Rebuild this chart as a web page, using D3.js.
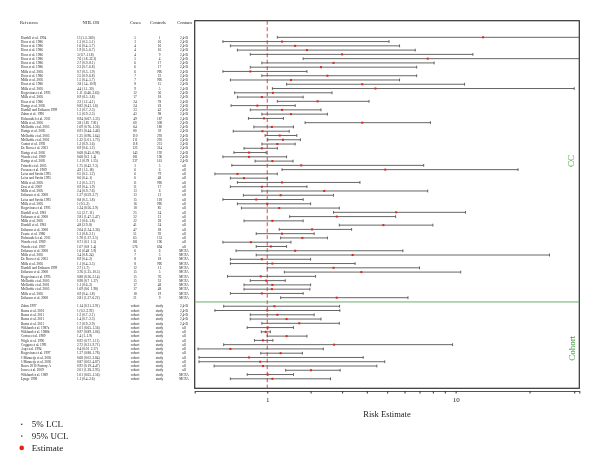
<!DOCTYPE html>
<html>
<head>
<meta charset="utf-8">
<script src="https://cdn.jsdelivr.net/npm/d3@7"></script>
<style>
  body { margin: 0; background: #fff; }
  svg { display: block; font-family: "Liberation Serif", "Times New Roman", serif; will-change: transform; }
</style>
</head>
<body>
<div id="chart"></div>
<script>
// Case-control studies
const ccRef = [
  'Hardell et al. 1994', 'Hoar et al. 1986', 'Hoar et al. 1986', 'Hoar et al. 1986', 'Hoar et al. 1986',
  'Hoar et al. 1986', 'Hoar et al. 1986', 'Hoar et al. 1986', 'Mills et al. 2005', 'Hoar et al. 1986',
  'Mills et al. 2005', 'Hoar et al. 1986', 'Mills et al. 2005', 'Kogevinas et al. 1995', 'Mills et al. 2005',
  'Hoar et al. 1986', 'Hartge et al. 2005', 'Hardell and Eriksson 1999', 'Zahm et al. 1990', 'Hohenadel et al. 2011',
  'Mills et al. 2005', 'McDuffie et al. 2005', 'Hartge et al. 2005', 'McDuffie et al. 2005', 'McDuffie et al. 2001',
  'Cantor et al. 1992', 'De Roos et al. 2003', 'Hartge et al. 2005', 'Woods et al. 1989', 'Hartge et al. 2005',
  'Fritschi et al. 2005', 'Persson et al. 1989', 'Leiss and Savitz 1995', 'Leiss and Savitz 1995', 'Mills et al. 2005',
  'Orsi et al. 2009', 'Mills et al. 2005', 'Eriksson et al. 2008', 'Leiss and Savitz 1995', 'Mills et al. 2005',
  'Kogevinas et al. 1995', 'Hardell et al. 1981', 'Eriksson et al. 2008', 'Mills et al. 2005', 'Hardell et al. 1981',
  'Eriksson et al. 2008', 'Pearce et al. 1986', 'Hohenadel et al. 2011', 'Woods et al. 1989', 'Woods et al. 1987',
  'Eriksson et al. 2008', 'Mills et al. 2005', 'De Roos et al. 2003', 'Mills et al. 2005', 'Hardell and Eriksson 1999',
  'Eriksson et al. 2008', 'Kogevinas et al. 1995', 'McDuffie et al. 2005', 'McDuffie et al. 2001', 'McDuffie et al. 2005',
  'Mills et al. 2005', 'Eriksson et al. 2008'
];
const ccEst = [13, 1.3, 1.6, 1.9, 3, 7.6, 2.7, 2.3, 0.7, 2.5, 1.5, 3.8, 4.4, 1.11, 0.9, 2.2, 0.82, 1.3, 1.5, 0.94,
  3.8, 1.09, 0.91, 1.25, 1.32, 1.2, 0.9, 0.68, 0.68, 1.1, 1.75, 4.9, 0.5, 0.6, 1.3, 0.9, 2.4, 1.27, 0.8, 1,
  1.24, 5.5, 2.81, 1.1, 4.8, 2.04, 1.3, 1.78, 0.71, 1.07, 1.6, 3.4, 0.9, 1.1, 2.7, 3.76, 0.88, 0.98, 1.1, 1.09,
  0.9, 2.81];
const ccLcl = [1.2, 0.3, 0.4, 0.5, 0.7, 1.8, 0.9, 0.7, 0.3, 0.9, 0.4, 1.4, 1.1, 0.46, 0.5, 1.2, 0.41, 0.7, 0.9, 0.67,
  1.85, 0.76, 0.44, 0.96, 1.01, 0.9, 0.6, 0.45, 0.3, 0.78, 0.42, 1.3, 0.2, 0.4, 0.5, 0.4, 0.9, 0.59, 0.3, 0.5,
  0.56, 2.7, 1.47, 0.6, 2.9, 1.24, 0.8, 1.27, 0.3, 0.8, 0.48, 0.8, 0.4, 0.4, 1, 1.35, 0.36, 0.7, 0.6, 0.6,
  0.4, 1.27];
const ccUcl = [360, 5.1, 5.7, 6.7, 11.8, 32.3, 8.1, 6.8, 1.9, 6.8, 5.7, 10.9, 30, 2.65, 1.8, 4.1, 1.6, 2.3, 2.5, 1.33,
  7.81, 1.56, 1.46, 1.64, 1.73, 1.6, 1.2, 0.98, 1.4, 1.55, 7.3, 18, 1.2, 1, 3.7, 1.9, 7.6, 2.7, 1.8, 2,
  2.9, 11, 5.47, 1.8, 8, 3.36, 2.1, 2.5, 1.5, 1.4, 5.9, 24, 2, 3.5, 7, 10.5, 2.14, 1.37, 2, 1.98,
  1.8, 6.22];
const ccCases = [5, 3, 4, 4, 4, 5, 6, 6, 6, 7, 7, 8, 9, 12, 17, 24, 24, 33, 43, 49, 60, 64, 80, 110, 111, 118, 123, 145, 181, 237,
  3, 6, 6, 6, 11, 11, 13, 13, 15, 16, 18, 25, 32, 32, 41, 47, 51, 65, 181, 576,
  6, 7, 8, 8, 12, 15, 15, 15, 17, 17, 18, 21];
const ccControls = ['1', '16', '16', '16', '9', '4', '17', '17', 'NR', '22', 'NR', '15', '5', '56', '18', '78', '18', '42', '98', '187',
  '508', '180', '59', '293', '293', '231', '314', '192', '196', '161', '5', '6', '79', '48', 'NR', '17', '6', '13', '118', 'NR',
  '85', '24', '13', '28', '24', '28', '92', '153', '196', '694', '6', '3', '18', 'NR', '11', '5', '76', '53', '48', '48',
  '19', '9'];
const ccContam = [...Array(30).fill('2,4-D'), ...Array(20).fill('all'), ...Array(12).fill('MCPA')];

// Cohort studies
const coRef = ['Zahm 1997', 'Burns et al. 2001', 'Burns et al. 2011', 'Burns et al. 2011', 'Burns et al. 2011',
  'Wiklund et al. 1987a', 'Wiklund et al. 1988b', 'Corrao et al. 1989', 'Wigle et al. 1990', 'Coggon et al. 1991',
  'Asp et al. 1994', 'Kogevinas et al. 1997', "'t Mannetje et al. 2005", "'t Mannetje et al. 2005",
  'Boers 2010 Factory A', 'Jones et al. 2009', 'Wiklund et al. 1989', 'Lynge 1998'];
const coEst = [1.14, 1.0, 1.2, 1.4, 1.7, 1.01, 0.97, 1.4, 0.92, 2.72, 0.4, 1.27, 0.68, 0.87, 0.92, 2.01, 1.01, 1.1];
const coLcl = [0.31, 0.2, 0.7, 0.7, 0.9, 0.65, 0.89, 1.0, 0.77, 0.31, 0.01, 0.88, 0.02, 0.02, 0.19, 1.38, 0.65, 0.4];
const coUcl = [2.91, 2.92, 2.1, 2.3, 2.9, 1.56, 1.06, 1.9, 1.11, 9.71, 2.37, 1.78, 3.84, 4.87, 4.47, 2.93, 1.56, 2.6];
const coContam = [...Array(5).fill('2,4-D'), ...Array(11).fill('all'), 'MCPA', 'MCPA'];

const xTicks = [1, 2, 3, 4, 5, 6, 7, 8, 9, 10, 20, 30];
const xLabels = [1, 10];

const width = 600, height = 475;
const box = { left: 194.7, right: 579.3, top: 20.7, bottom: 388.3 };

const svg = d3.select('#chart').append('svg')
  .attr('width', width)
  .attr('height', height);

// rows: case-control first, one empty row, then cohort
const rows = ccRef.map((r, i) => ({
  ref: r, est: ccEst[i], lcl: ccLcl[i], ucl: ccUcl[i],
  c1: ccCases[i], c2: ccControls[i], contam: ccContam[i], pos: i
})).concat(coRef.map((r, j) => ({
  ref: r, est: coEst[j], lcl: coLcl[j], ucl: coUcl[j],
  c1: 'cohort', c2: 'study', contam: coContam[j], pos: ccRef.length + 1 + j
})));

const x = d3.scaleSymlog().constant(1.2)
  .domain([-0.025, 31.4])
  .range([box.left, box.right])
  .clamp(true);

const y = d3.scaleLinear()
  .domain([0, 80])
  .range([37.3, 378.8]);

const fmt = v => String(v);

// table header
const head = svg.append('g').attr('font-size', 4.6).attr('fill', '#222');
head.append('text').attr('x', 20).attr('y', 24.2).text('Reference');
[['NHL OR', 91], ['Cases', 135.4], ['Controls', 158], ['Contam', 184.5]].forEach(([t, cx]) => {
  head.append('text').attr('x', cx).attr('y', 24.2).attr('text-anchor', 'middle').text(t);
});

// table rows
const tbl = svg.append('g').attr('font-size', 3.4).attr('fill', '#222');
const tr = tbl.selectAll('g.row').data(rows).enter().append('g')
  .attr('transform', d => `translate(0,${y(d.pos) + 1.2})`);
tr.append('text').attr('x', 21).text(d => d.ref);
tr.append('text').attr('x', 77).text(d => `${fmt(d.est)} (${fmt(d.lcl)}\u2013${fmt(d.ucl)})`);
tr.append('text').attr('x', 135).attr('text-anchor', 'middle').text(d => d.c1);
tr.append('text').attr('x', 159.5).attr('text-anchor', 'middle').text(d => d.c2);
tr.append('text').attr('x', 184).attr('text-anchor', 'middle').text(d => d.contam);

// plot frame
svg.append('rect')
  .attr('x', box.left).attr('y', box.top)
  .attr('width', box.right - box.left).attr('height', box.bottom - box.top)
  .attr('fill', 'none').attr('stroke', '#333').attr('stroke-width', 1.2);

// separator between CC and cohort
const sepY = (y(ccRef.length - 1) + y(ccRef.length + 1)) / 2;
svg.append('line')
  .attr('x1', box.left).attr('x2', box.right)
  .attr('y1', sepY).attr('y2', sepY)
  .attr('stroke', '#6aaf6a').attr('stroke-width', 1);

// reference line at 1
svg.append('line')
  .attr('x1', x(1)).attr('x2', x(1))
  .attr('y1', box.top).attr('y2', box.bottom)
  .attr('stroke', '#e8473d').attr('stroke-width', 1)
  .attr('stroke-dasharray', '4,2.5');

// confidence intervals
const [d0, d1] = x.domain();
const ci = svg.append('g').attr('stroke', '#555').attr('stroke-width', 0.9);
ci.selectAll('line.ci').data(rows).enter().append('line')
  .attr('x1', d => x(d.lcl)).attr('x2', d => x(d.ucl))
  .attr('y1', d => y(d.pos)).attr('y2', d => y(d.pos));
const caps = rows.flatMap(d => [d.lcl, d.ucl].filter(v => v >= d0 && v <= d1).map(v => ({ v, pos: d.pos })));
ci.selectAll('line.cap').data(caps).enter().append('line')
  .attr('x1', d => x(d.v)).attr('x2', d => x(d.v))
  .attr('y1', d => y(d.pos) - 1.4).attr('y2', d => y(d.pos) + 1.4);

// point estimates
svg.append('g').selectAll('rect').data(rows).enter().append('rect')
  .attr('x', d => x(d.est) - 1).attr('y', d => y(d.pos) - 1)
  .attr('width', 2).attr('height', 2)
  .attr('fill', '#e3221c');

// group labels
svg.append('text')
  .attr('transform', 'translate(574,161) rotate(-90)')
  .attr('text-anchor', 'middle').attr('font-size', 9).attr('fill', '#3a9a3a')
  .text('CC');
svg.append('text')
  .attr('transform', `translate(574.5,${(sepY + box.bottom) / 2 + 3}) rotate(-90)`)
  .attr('text-anchor', 'middle').attr('font-size', 9).attr('fill', '#3a9a3a')
  .text('Cohort');

// x axis
const axis = svg.append('g')
  .attr('transform', 'translate(0,391)')
  .call(d3.axisBottom(x)
    .tickValues(xTicks)
    .tickSize(2.5)
    .tickSizeOuter(2.5)
    .tickPadding(4)
    .tickFormat(d => xLabels.includes(d) ? d : ''));
axis.select('.domain').attr('stroke', '#555').attr('stroke-width', 1.2);
axis.selectAll('.tick line').attr('stroke', '#333');
axis.selectAll('.tick text').attr('font-size', 7).attr('font-family', '"Liberation Serif", serif').attr('fill', '#222');

svg.append('text')
  .attr('x', 387).attr('y', 417)
  .attr('text-anchor', 'middle').attr('font-size', 8.5).attr('fill', '#222')
  .text('Risk Estimate');

// legend
const legend = svg.append('g').attr('font-size', 9).attr('fill', '#222');
const legItems = ['5% LCL', '95% UCL', 'Estimate'];
legItems.forEach((t, i) => {
  const ly = 424.3 + i * 11.8;
  if (i === 2) {
    legend.append('circle').attr('cx', 21.7).attr('cy', ly).attr('r', 2.3).attr('fill', '#e3221c');
  } else {
    legend.append('rect').attr('x', 21).attr('y', ly - 0.6).attr('width', 1.4).attr('height', 1.2).attr('fill', '#333');
  }
  legend.append('text').attr('x', 31.7).attr('y', ly + 3).text(t);
});
</script>
</body>
</html>
